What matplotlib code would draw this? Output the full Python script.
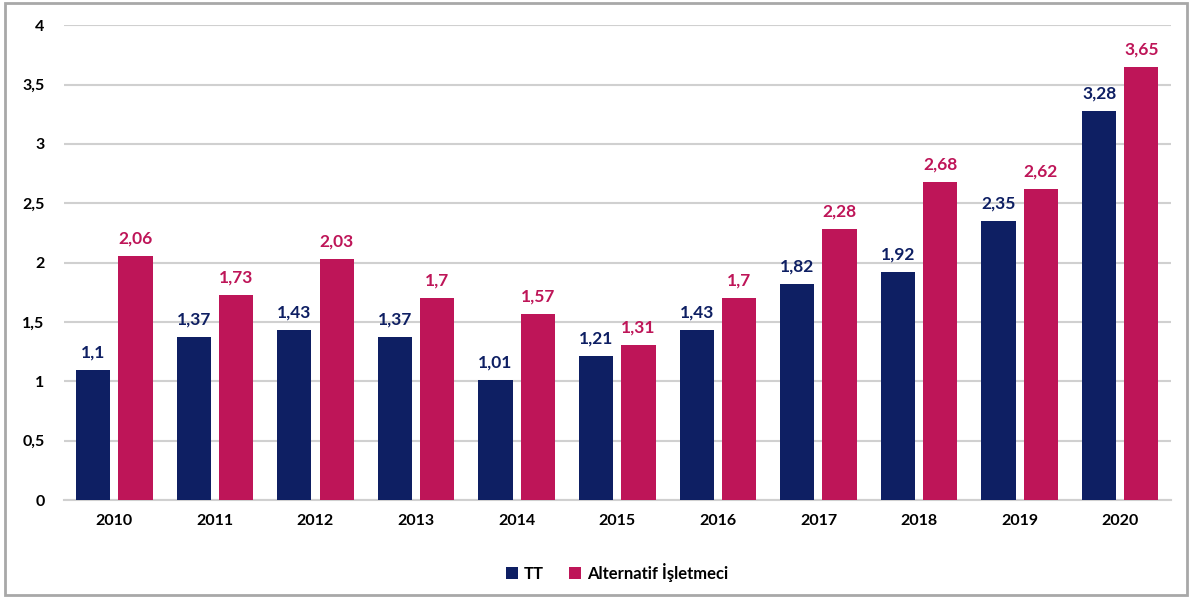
import matplotlib.pyplot as plt
import numpy as np
from matplotlib.patches import Rectangle

# data
years = ["2010", "2011", "2012", "2013", "2014", "2015", "2016", "2017", "2018", "2019", "2020"]
tt = [1.1, 1.37, 1.43, 1.37, 1.01, 1.21, 1.43, 1.82, 1.92, 2.35, 3.28]
alternatif = [2.06, 1.73, 2.03, 1.7, 1.57, 1.31, 1.7, 2.28, 2.68, 2.62, 3.65]
yticks = [0, 0.5, 1, 1.5, 2, 2.5, 3, 3.5, 4]

navy = "#0e1f63"
crimson = "#be1558"

plt.rcParams["font.family"] = ["Lato", "DejaVu Sans"]
plt.rcParams["font.weight"] = "bold"

fig = plt.figure(figsize=(11.92, 5.99), dpi=100)
ax = fig.add_axes([0.0537, 0.165, 0.9283, 0.793])

x = np.arange(len(years))
w = 0.34
off = 0.21
b1 = ax.bar(x - off, tt, w, color=navy, label="TT", zorder=3)
b2 = ax.bar(x + off, alternatif, w, color=crimson, label="Alternatif İşletmeci", zorder=3)


def fmt(v):
    return ("%g" % v).replace(".", ",")


for rect, v in zip(b1, tt):
    ax.text(rect.get_x() + rect.get_width() / 2, v + 0.08, fmt(v), ha="center", va="bottom",
            color=navy, fontsize=12.5, fontweight="bold")
for rect, v in zip(b2, alternatif):
    ax.text(rect.get_x() + rect.get_width() / 2, v + 0.08, fmt(v), ha="center", va="bottom",
            color=crimson, fontsize=12.5, fontweight="bold")

ax.set_xlim(-0.5, len(years) - 0.5)
ax.set_ylim(0, 4)
ax.set_yticks(yticks)
ax.set_yticklabels([fmt(t) for t in yticks], fontsize=11.5, fontweight="bold")
ax.set_xticks(x)
ax.set_xticklabels(years, fontsize=11.5, fontweight="bold")
ax.tick_params(length=0, pad=10)
ax.tick_params(axis="y", pad=14)
ax.grid(axis="y", color="#d0d0d0", linewidth=1.5, zorder=0)
for s in ["top", "right", "left"]:
    ax.spines[s].set_visible(False)
ax.spines["bottom"].set_color("#d0d0d0")
ax.spines["bottom"].set_linewidth(1.5)

ax.legend(loc="upper center", bbox_to_anchor=(0.5, -0.1), ncol=2, frameon=False,
          handlelength=0.7, handleheight=0.7, handletextpad=0.4, columnspacing=1.5,
          prop={"size": 12, "weight": "bold"})

fig.patches.append(Rectangle((0.004, 0.007), 0.992, 0.988, transform=fig.transFigure,
                             fill=False, edgecolor="#a8a8a8", linewidth=2))

fig.savefig("out.png", dpi=100)
